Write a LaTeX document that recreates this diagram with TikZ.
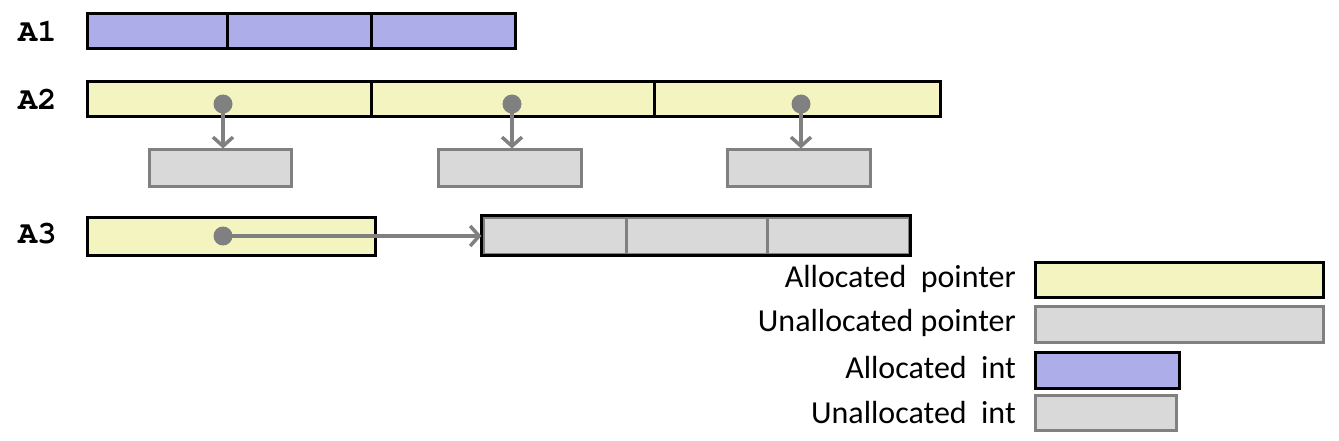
\documentclass[tikz,border=0pt]{standalone}
\usepackage{fontspec}
\setmainfont{Carlito}
\usetikzlibrary{arrows.meta,positioning}
\definecolor{ptrY}{HTML}{F4F4C0}
\definecolor{intP}{HTML}{ADADE9}
\definecolor{unG}{HTML}{D9D9D9}
\definecolor{lnG}{HTML}{808080}
\tikzset{
  cellbox/.style={draw=black, line width=3pt, inner sep=0pt, minimum height=35pt},
  yel/.style={cellbox, fill=ptrY},
  pur/.style={cellbox, fill=intP},
  grybox/.style={draw=lnG, line width=3pt, fill=unG, inner sep=0pt, minimum height=36pt},
  dotnode/.style={circle, fill=lnG, inner sep=0pt, minimum size=19pt},
  ptrarrow/.style={draw=lnG, line width=3.5pt, -{Straight Barb[length=9pt,width=20pt,line width=3.5pt]}},
  rowlabel/.style={font=\fontencoding{T1}\fontfamily{pcr}\fontseries{b}\fontsize{32}{32}\selectfont, anchor=west, inner sep=0pt},
  leglabel/.style={font=\fontsize{32}{32}\selectfont, anchor=east, inner sep=0pt}
}
\begin{document}
\begin{tikzpicture}[x=1pt,y=-1pt]
\useasboundingbox (0,0) rectangle (1339,441);
% A1
\node[rowlabel] (l1) at (18,31) {A1};
\node[pur, minimum width=140pt] (a1c1) at (157,31.5) {};
\node[pur, minimum width=144pt] (a1c2) at (299,31.5) {};
\node[pur, minimum width=144pt] (a1c3) at (443,31.5) {};
% A2
\node[rowlabel] (l2) at (18,99) {A2};
\node[yel, minimum width=284pt] (a2c1) at (229,99.5) {};
\node[yel, minimum width=283pt] (a2c2) at (512.5,99.5) {};
\node[yel, minimum width=286pt] (a2c3) at (797,99.5) {};
\node[grybox, minimum width=142pt] (t1) at (220,168) {};
\node[grybox, minimum width=143pt] (t2) at (509.5,168) {};
\node[grybox, minimum width=143pt] (t3) at (798.5,168) {};
\node[dotnode] (d1) at (223,104) {};
\node[dotnode] (d2) at (512,104) {};
\node[dotnode] (d3) at (801,104) {};
\draw[ptrarrow] (d1.center) -- (d1.center |- t1.north);
\draw[ptrarrow] (d2.center) -- (d2.center |- t2.north);
\draw[ptrarrow] (d3.center) -- (d3.center |- t3.north);
% A3
\node[rowlabel] (l3) at (18,234) {A3};
\node[yel, minimum width=288pt, minimum height=38pt] (a3c1) at (231,236) {};
\node[grybox, minimum width=143pt, minimum height=37pt] (g1) at (554.5,235.5) {};
\node[grybox, minimum width=141pt, minimum height=37pt] (g2) at (696.5,235.5) {};
\node[grybox, minimum width=142pt, minimum height=37pt] (g3) at (838,235.5) {};
\draw[black, line width=3pt] (g1.north west) rectangle (g3.south east);
\node[dotnode] (d4) at (223,236) {};
\draw[ptrarrow] (d4.center) -- (g1.west |- d4.center);
% legend
\node[yel, minimum width=288pt, anchor=west] (k1) at (1034,279.5) {};
\node[grybox, minimum width=288pt, anchor=west] (k2) at (1034,324) {};
\node[pur, minimum width=144pt, minimum height=36pt, anchor=west] (k3) at (1034,370) {};
\node[grybox, minimum width=141pt, minimum height=35pt, anchor=west] (k4) at (1034,412.5) {};
\node[leglabel] (t1l) at (1016,279) {Allocated\ \ pointer};
\node[leglabel] (t2l) at (1016,323) {Unallocated pointer};
\node[leglabel] (t3l) at (1016,368) {Allocated\ \ int};
\node[leglabel] (t4l) at (1016,413) {Unallocated\ \ int};
\end{tikzpicture}
\end{document}
